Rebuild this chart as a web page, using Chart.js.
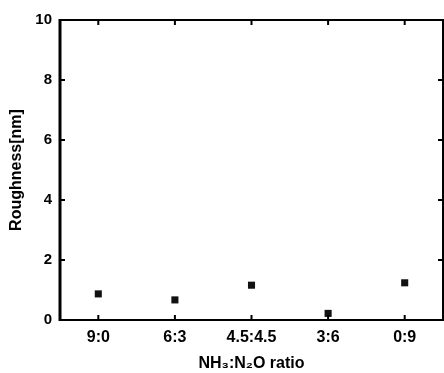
<!DOCTYPE html>
<html>
<head>
<meta charset="utf-8">
<script src="https://cdn.jsdelivr.net/npm/chart.js@4"></script>
<style>
  html, body { margin: 0; padding: 0; background: #fff; }
  #wrap { width: 444px; height: 373px; }
</style>
</head>
<body>
<div id="wrap"><canvas id="roughChart" width="444" height="373"></canvas></div>
<script>
// NH3:N2O gas ratio vs surface roughness
const ratios = ['9:0', '6:3', '4.5:4.5', '3:6', '0:9'];
const roughness = [0.87, 0.67, 1.16, 0.22, 1.24];
const yTicks = [0, 2, 4, 6, 8, 10];

const FONT = '"Liberation Sans", Arial, sans-serif';

// frame + inward ticks on all four sides
const frameTicks = {
  id: 'frameTicks',
  afterDraw(chart) {
    const { ctx, chartArea: a, scales } = chart;
    const tl = 5;
    ctx.save();
    ctx.strokeStyle = '#000';
    ctx.lineWidth = 2;
    ctx.strokeRect(a.left, a.top, a.right - a.left, a.bottom - a.top);
    // left axis a bit heavier
    ctx.lineWidth = 3;
    ctx.beginPath();
    ctx.moveTo(a.left, a.top - 1);
    ctx.lineTo(a.left, a.bottom + 1);
    ctx.stroke();
    ctx.lineWidth = 2;
    ctx.beginPath();
    yTicks.forEach(v => {
      const y = scales.y.getPixelForValue(v);
      ctx.moveTo(a.left, y); ctx.lineTo(a.left + tl, y);
      ctx.moveTo(a.right, y); ctx.lineTo(a.right - tl, y);
    });
    ratios.forEach((r, i) => {
      const x = scales.x.getPixelForValue(i);
      ctx.moveTo(x, a.bottom); ctx.lineTo(x, a.bottom - tl);
      ctx.moveTo(x, a.top); ctx.lineTo(x, a.top + tl);
    });
    ctx.stroke();
    ctx.restore();
  }
};

new Chart(document.getElementById('roughChart'), {
  type: 'line',
  data: {
    labels: ratios,
    datasets: [{
      data: roughness,
      showLine: false,
      pointStyle: 'rect',
      pointRadius: 5,
      pointBackgroundColor: '#111',
      pointBorderColor: '#111',
      pointBorderWidth: 0
    }]
  },
  options: {
    responsive: false,
    animation: false,
    layout: { autoPadding: false, padding: { left: 0, right: 1, top: 20, bottom: 0 } },
    plugins: { legend: { display: false }, tooltip: { enabled: false } },
    scales: {
      x: {
        type: 'category',
        offset: true,
        grid: { display: false, drawTicks: false },
        border: { display: false },
        ticks: { color: '#000', padding: 8, font: { family: FONT, size: 16, weight: 'bold' } },
        title: {
          display: true,
          text: 'NH\u2083:N\u2082O ratio',
          color: '#000',
          padding: { top: 6, bottom: 0 },
          font: { family: FONT, size: 16, weight: 'bold' }
        },
        afterFit(s) { s.height = 53; }
      },
      y: {
        min: 0,
        max: 10,
        grid: { display: false, drawTicks: false },
        border: { display: false },
        ticks: {
          stepSize: 2,
          color: '#000',
          padding: 8,
          font: { family: FONT, size: 15, weight: 'bold' }
        },
        afterBuildTicks(s) { s.ticks = yTicks.map(v => ({ value: v })); },
        title: {
          display: true,
          text: 'Roughness[nm]',
          color: '#000',
          padding: { top: 7, bottom: 0 },
          font: { family: FONT, size: 16, weight: 'bold' }
        },
        afterFit(s) { s.width = 60; }
      }
    }
  },
  plugins: [frameTicks]
});
</script>
</body>
</html>
